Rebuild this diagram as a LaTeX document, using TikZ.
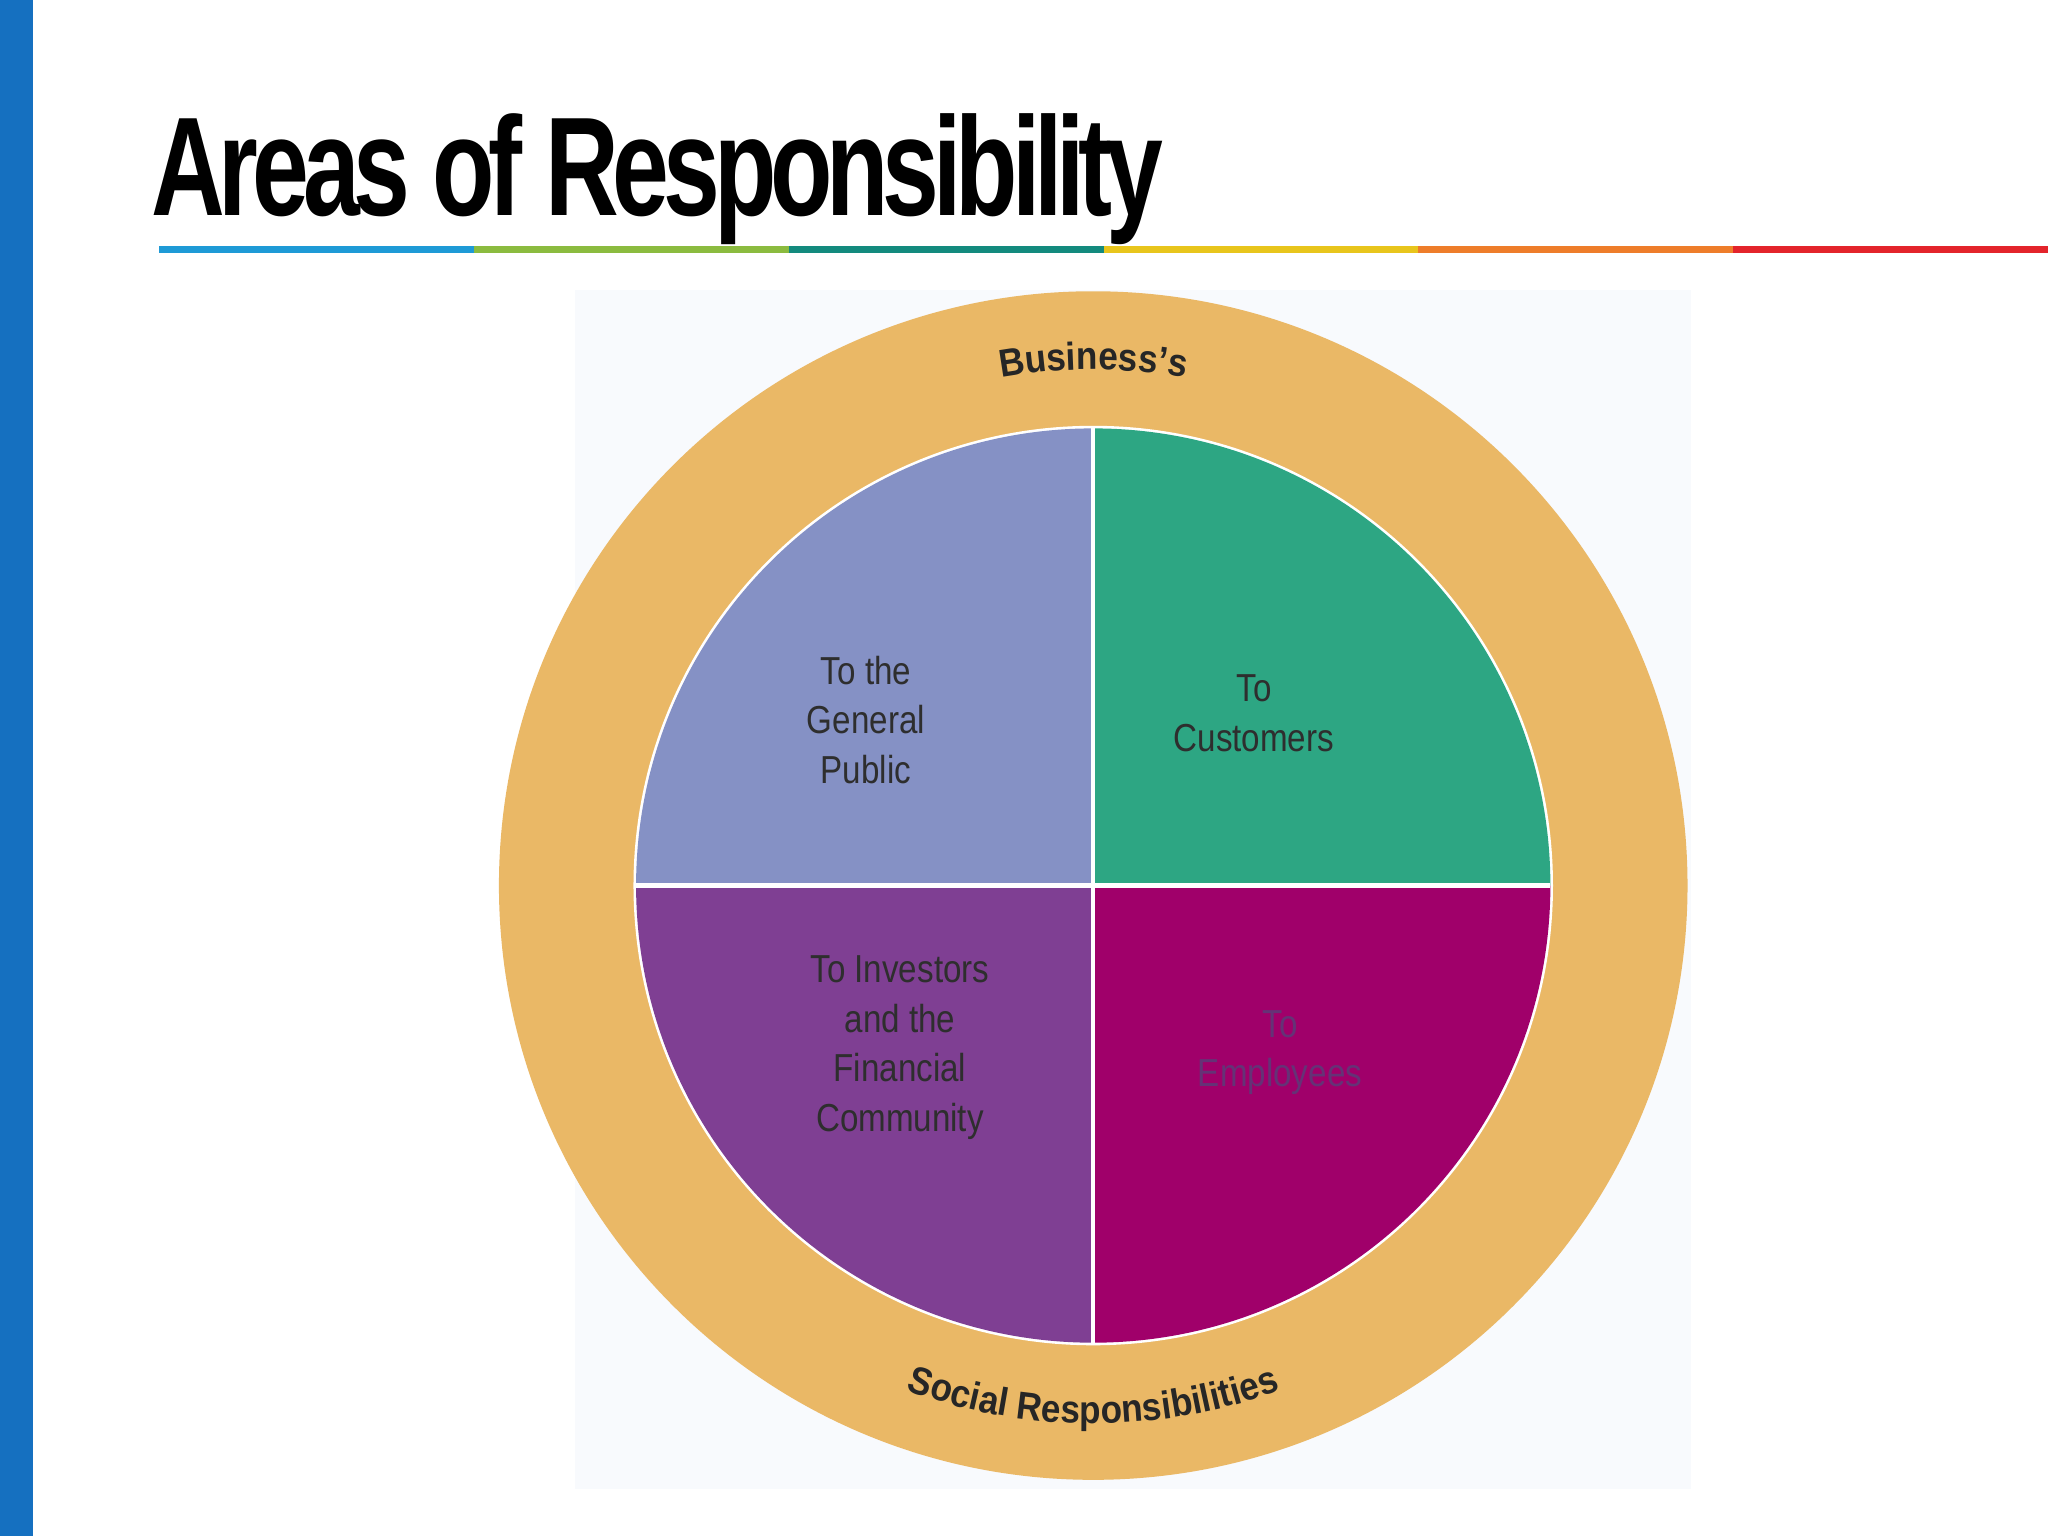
\documentclass[tikz,border=0pt]{standalone}
\usepackage{fontspec}
\setmainfont{Liberation Sans}
\usetikzlibrary{decorations.text}
\definecolor{sideblue}{HTML}{1570C0}
\definecolor{ringc}{HTML}{EAB866}
\definecolor{qtl}{HTML}{8591C5}
\definecolor{qtr}{HTML}{2DA683}
\definecolor{qbl}{HTML}{7F3F93}
\definecolor{qbr}{HTML}{A0006A}
\definecolor{qtext}{HTML}{2E2E2E}
\definecolor{panelbg}{HTML}{F8FAFD}
\tikzset{qlabel/.style={align=center,text=qtext,font=\fontsize{8.5}{10.8}\selectfont\addfontfeatures{FakeStretch=0.85}}}
\begin{document}
\begin{tikzpicture}
\useasboundingbox (0,0) rectangle (15.68,-11.76);
\fill[white] (0,0) rectangle (15.68,-11.76);
\fill[sideblue] (0,0) rectangle (0.25,-11.76);
\node[anchor=base west,inner sep=0] (title) at (1.15,-1.65) {\resizebox{7.75cm}{0.78cm}{\bfseries\addfontfeatures{LetterSpace=-6}Areas of Responsibility}};
\foreach \c/\a in {1E9AD6/1.22,8BBB3F/3.63,138A7E/6.04,E8C51C/8.45,EE7D2A/10.86,E3242B/13.27}{
  \definecolor{segc}{HTML}{\c}
  \fill[segc] (\a,-1.885) rectangle ++(2.41,-0.055);
}
\fill[panelbg] (4.40,-2.22) rectangle (12.95,-11.40);
\coordinate (c) at (8.37,-6.78);
\fill[ringc] (c) circle (4.55);
\fill[white] (c) circle (3.52);
\fill[qtl] (c) -- ++(90:3.5) arc (90:180:3.5) -- cycle;
\fill[qtr] (c) -- ++(0:3.5) arc (0:90:3.5) -- cycle;
\fill[qbl] (c) -- ++(180:3.5) arc (180:270:3.5) -- cycle;
\fill[qbr] (c) -- ++(270:3.5) arc (270:360:3.5) -- cycle;
\draw[white,line width=0.9pt] (c) ++(0,3.5) -- ++(0,-7);
\draw[white,line width=0.9pt] (c) ++(-3.5,0) -- ++(7,0);
\path[decorate,decoration={text along path,text align=center,
  text={|\fontsize{8.5}{10}\selectfont\bfseries\addfontfeatures{FakeStretch=0.9}\color{black!85}|Business's}}]
  (c) ++(180:3.95) arc (180:0:3.95);
\path[decorate,decoration={text along path,text align=center,
  text={|\fontsize{8.5}{10}\selectfont\bfseries\addfontfeatures{FakeStretch=0.9}\color{black!85}|Social Responsibilities}}]
  (c) ++(180:4.12) arc (180:360:4.12);
\node[qlabel] (pub) at (6.63,-5.51) {To the\\General\\Public};
\node[qlabel] (cus) at (9.60,-5.46) {To\\Customers};
\node[qlabel] (inv) at (6.89,-8.02) {To Investors\\and the\\Financial\\Community};
\node[qlabel,text=qbl!80!black] (emp) at (9.80,-8.06) {To\\Employees};
\end{tikzpicture}
\end{document}
